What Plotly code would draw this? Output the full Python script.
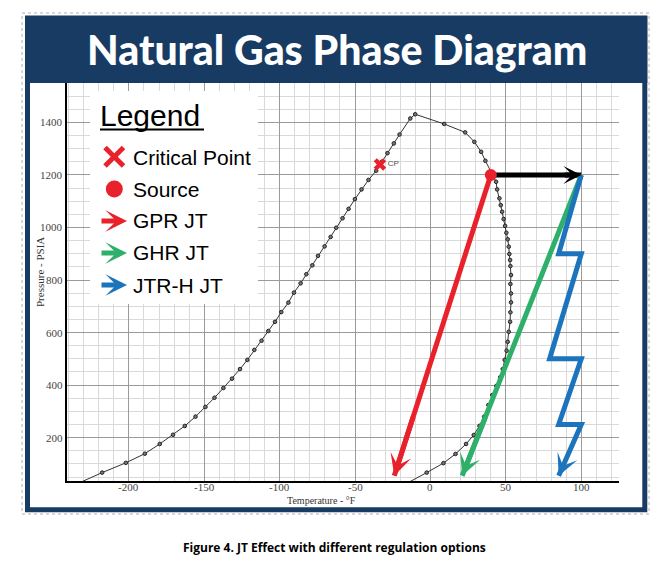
import plotly.graph_objects as go

# ---------------- data ----------------
env_T = [-234, -217.7, -202, -189.4, -179.5, -170.7, -162.9, -155.8, -149.2, -143.2,
         -137.3, -131.6, -126.3, -121.4, -116.8, -112, -107.5, -103.1, -98.9, -94.2,
         -90.5, -86.1, -82.3, -78.3, -74.6, -70.2, -66.2, -62.5, -58.3, -54.3,
         -50.1, -45.7, -41.1, -36, -32.3, -28.5, -24.3, -20.5, -13.4, -10.1,
         9.1, 23, 29.1, 33.6, 36.4, 43.5, 44.2, 45.7, 46.6, 47.5,
         48.5, 49.5, 50.3, 51.2, 51.9, 52.3, 52.8, 53, 53.4, 53,
         53.4, 53.4, 53, 52.8, 51.9, 51.2, 50.5, 49.2, 47.9, 46.2,
         43.7, 41, 38.4, 35.6, 32.5, 28.7, 23.6, 16.6, 8.6, -2.5, -16]
env_P = [25, 67, 104, 139, 176, 211, 244.5, 280, 317, 352,
         389, 424.5, 461, 496, 534, 569, 606, 641, 678, 714,
         752, 787.5, 822, 856, 892, 928, 964, 999, 1035, 1071,
         1108, 1145, 1181, 1216, 1250, 1283, 1320, 1354, 1415, 1431,
         1394, 1362, 1326, 1288, 1254, 1174, 1145, 1111, 1085, 1060,
         1032, 1006, 980, 955, 927, 899, 876, 853, 819, 785,
         749, 715, 677, 641, 603, 565, 531, 496, 461, 430,
         397, 362, 324, 280, 245, 210, 176, 138, 103, 67, 25]

cp_T, cp_P = [-33.5], [1240]
source_T, source_P = [40], [1200]

black_T, black_P = [40, 100], [1200, 1200]
red_T, red_P = [40, -24], [1200, 55]
green_T, green_P = [100, 21], [1200, 55]
blue_T = [100, 85, 100, 79, 100, 85, 100, 85]
blue_P = [1200, 900, 900, 500, 500, 250, 250, 55]
blue_heads = [2, 4, 6, 7]   # segment end indices that carry arrowheads

x_ticks = [-200, -150, -100, -50, 0, 50, 100]
y_ticks = [200, 400, 600, 800, 1000, 1200, 1400]

title_text = "Natural Gas Phase Diagram"
caption_text = "Figure 4. JT Effect with different regulation options"
legend_items = ["Critical Point", "Source", "GPR JT", "GHR JT", "JTR-H JT"]

RED, GREEN, BLUE, NAVY = "#e8212b", "#2eb06a", "#1c74bd", "#183b64"

# ---------------- layout geometry ----------------
W, H = 667, 575
L, R, T, B = 67, 619, 83, 481


def px(x):
    return (x - L) / (R - L)


def py(y):
    return (B - y) / (B - T)


fig = go.Figure()

fig.add_trace(go.Scatter(x=env_T, y=env_P, mode="lines+markers",
                         line=dict(color="#333333", width=1),
                         marker=dict(size=3.6, color="#777777", line=dict(color="#222222", width=1)),
                         hoverinfo="skip", showlegend=False))

fig.add_trace(go.Scatter(x=black_T, y=black_P, mode="lines",
                         line=dict(color="black", width=5), showlegend=False))
fig.add_trace(go.Scatter(x=red_T, y=red_P, mode="lines",
                         line=dict(color=RED, width=5), showlegend=False))
fig.add_trace(go.Scatter(x=green_T, y=green_P, mode="lines",
                         line=dict(color=GREEN, width=5), showlegend=False))
fig.add_trace(go.Scatter(x=blue_T, y=blue_P, mode="lines",
                         line=dict(color=BLUE, width=5), showlegend=False))

fig.add_trace(go.Scatter(x=cp_T, y=cp_P, mode="markers+text", text=["CP"],
                         textposition="middle right",
                         textfont=dict(family="Liberation Sans, Arial", size=8, color="#555555"),
                         marker=dict(symbol="x", size=11, color=RED, line=dict(width=0)),
                         showlegend=False))
fig.add_trace(go.Scatter(x=source_T, y=source_P, mode="markers",
                         marker=dict(symbol="circle", size=12, color=RED),
                         showlegend=False))

annotations = []


def head(x0, y0, x1, y1, color, size=0.72):
    # short arrow near the segment end so that only the head shows over the line trace
    f = 0.8
    annotations.append(dict(x=x1, y=y1, ax=x0 + (x1 - x0) * f, ay=y0 + (y1 - y0) * f,
                            xref="x", yref="y", axref="x", ayref="y", text="",
                            showarrow=True, arrowhead=3, arrowsize=size, arrowwidth=5,
                            arrowcolor=color, standoff=0))


head(black_T[0], black_P[0], black_T[1], black_P[1], "black", 0.6)
head(red_T[0], red_P[0], red_T[1], red_P[1], RED)
head(green_T[0], green_P[0], green_T[1], green_P[1], GREEN)
for i in blue_heads:
    head(blue_T[i - 1], blue_P[i - 1], blue_T[i], blue_P[i], BLUE)

shapes = []
# outer dotted line
shapes.append(dict(type="rect", xref="paper", yref="paper", x0=px(22), x1=px(649), y0=py(514), y1=py(13),
                   line=dict(color="#b0b0b0", width=1, dash="dot"), fillcolor="rgba(0,0,0,0)", layer="below"))
# navy frame
shapes.append(dict(type="rect", xref="paper", yref="paper", x0=px(27.5), x1=px(644.8), y0=py(509.8), y1=py(18),
                   line=dict(color=NAVY, width=5), fillcolor="rgba(0,0,0,0)", layer="above"))
# title bar
shapes.append(dict(type="rect", xref="paper", yref="paper", x0=px(25), x1=px(647.3), y0=py(83), y1=py(16),
                   line=dict(width=0), fillcolor=NAVY, layer="above"))
# legend box
shapes.append(dict(type="rect", xref="paper", yref="paper", x0=px(90), x1=px(258), y0=py(304), y1=py(91),
                   line=dict(width=0), fillcolor="white", layer="above"))
# legend underline
shapes.append(dict(type="line", xref="paper", yref="paper", x0=px(100), x1=px(204), y0=py(129.5), y1=py(129.5),
                   line=dict(color="black", width=2), layer="above"))
# legend X
shapes.append(dict(type="line", xref="paper", yref="paper", x0=px(105), x1=px(123.5), y0=py(147.5), y1=py(166),
                   line=dict(color=RED, width=5), layer="above"))
shapes.append(dict(type="line", xref="paper", yref="paper", x0=px(105), x1=px(123.5), y0=py(166), y1=py(147.5),
                   line=dict(color=RED, width=5), layer="above"))
# legend circle
shapes.append(dict(type="circle", xref="paper", yref="paper", x0=px(105.8), x1=px(122.8), y0=py(197.5), y1=py(180.5),
                   line=dict(width=0), fillcolor=RED, layer="above"))

# title and caption
annotations.append(dict(x=px(337), y=py(50), xref="paper", yref="paper", text=title_text,
                        showarrow=False, xanchor="center", yanchor="middle",
                        font=dict(family="Lato, sans-serif", size=41, color="white", weight=900)))
annotations.append(dict(x=px(334), y=py(547), xref="paper", yref="paper", text="<b>" + caption_text + "</b>",
                        showarrow=False, xanchor="center", yanchor="middle",
                        font=dict(family="Open Sans, sans-serif", size=12, color="black")))

serif = "Liberation Serif, Times New Roman, serif"
# axis titles
annotations.append(dict(x=px(40), y=py(272), xref="paper", yref="paper", text="Pressure - PSIA",
                        textangle=-90, showarrow=False, xanchor="center", yanchor="middle",
                        font=dict(family=serif, size=11, color="#333333")))
annotations.append(dict(x=px(321), y=py(500), xref="paper", yref="paper", text="Temperature - °F",
                        showarrow=False, xanchor="center", yanchor="middle",
                        font=dict(family=serif, size=10, color="#333333")))

# tick labels, placed on the axes' own scales
for v in x_ticks:
    annotations.append(dict(x=v, y=py(487), xref="x", yref="paper", text=str(v), showarrow=False,
                            xanchor="center", yanchor="middle",
                            font=dict(family=serif, size=11, color="#444444")))
for v in y_ticks:
    annotations.append(dict(x=px(64.5), y=v, xref="paper", yref="y", text=str(v), showarrow=False,
                            xanchor="right", yanchor="middle",
                            font=dict(family=serif, size=11, color="#444444")))

# legend texts
annotations.append(dict(x=px(98), y=py(115), xref="paper", yref="paper", text="Legend",
                        showarrow=False, xanchor="left", yanchor="middle",
                        font=dict(family="Liberation Sans, Arial, sans-serif", size=30, color="black")))
leg_y = [157, 189, 221, 253, 285]
for name, yy in zip(legend_items, leg_y):
    annotations.append(dict(x=px(131), y=py(yy), xref="paper", yref="paper", text=name,
                            showarrow=False, xanchor="left", yanchor="middle",
                            font=dict(family="Liberation Sans, Arial, sans-serif", size=21, color="black")))
for color, yy in zip([RED, GREEN, BLUE], leg_y[2:]):
    annotations.append(dict(x=px(127), y=py(yy), xref="paper", yref="paper", ax=-27, ay=0,
                            axref="pixel", ayref="pixel", text="", showarrow=True,
                            arrowhead=3, arrowsize=0.72, arrowwidth=5, arrowcolor=color, standoff=0))

fig.update_layout(
    width=W, height=H,
    margin=dict(l=L, r=W - R, t=T, b=H - B, pad=0),
    paper_bgcolor="white", plot_bgcolor="white",
    showlegend=False,
    shapes=shapes, annotations=annotations,
    xaxis=dict(range=[-241, 125], tickvals=x_ticks, showticklabels=False,
               showgrid=True, gridcolor="#9a9a9a", gridwidth=1,
               minor=dict(dtick=10, tick0=0, showgrid=True, gridcolor="#d9d9d9", gridwidth=1),
               showline=True, linecolor="black", linewidth=1.5, ticks="",
               zeroline=False, fixedrange=True),
    yaxis=dict(range=[35, 1550], tickvals=y_ticks, showticklabels=False,
               showgrid=True, gridcolor="#9a9a9a", gridwidth=1,
               minor=dict(dtick=50, tick0=0, showgrid=True, gridcolor="#d9d9d9", gridwidth=1),
               showline=True, linecolor="black", linewidth=1.5, ticks="",
               zeroline=False, fixedrange=True),
)

fig.write_html("out.html")
